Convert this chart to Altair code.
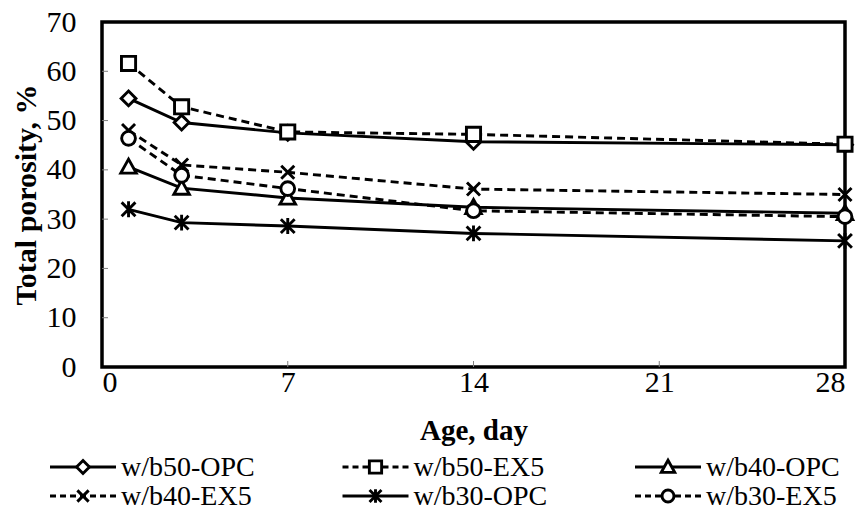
import altair as alt
import pandas as pd

# ---------------- data ----------------
days = [1, 3, 7, 14, 28]
series_names = ["w/b50-OPC", "w/b50-EX5", "w/b40-OPC", "w/b40-EX5", "w/b30-OPC", "w/b30-EX5"]
w50_opc = [54.5, 49.6, 47.5, 45.7, 45.1]
w50_ex5 = [61.6, 52.8, 47.7, 47.2, 45.2]
w40_opc = [40.6, 36.3, 34.3, 32.4, 31.2]
w40_ex5 = [48.0, 41.0, 39.5, 36.1, 35.0]
w30_opc = [32.0, 29.3, 28.6, 27.1, 25.6]
w30_ex5 = [46.4, 38.9, 36.2, 31.7, 30.5]
series_values = [w50_opc, w50_ex5, w40_opc, w40_ex5, w30_opc, w30_ex5]
line_styles = ["solid", "dash", "solid", "dash", "solid", "dash"]
x_tick_values = [0, 7, 14, 21, 28]
y_tick_values = [0, 10, 20, 30, 40, 50, 60, 70]

# ---------------- styles ----------------
FONT = "Liberation Serif"
FS = 30
FS_LEG = 28
FS_XT = 29
W, H = 743, 345
SW = 2.9
DIAMOND = "M0,-1L1,0L0,1L-1,0Z"
TRIANGLE = "M0,-1L1,0.8L-1,0.8Z"
XMARK = "M-1,-1L1,1M-1,1L1,-1"
STAR = "M-1,-1L1,1M-1,1L1,-1M0,-1.15L0,1.15"
shapes = [DIAMOND, "square", TRIANGLE, XMARK, STAR, "circle"]
sizes = [220, 200, 240, 170, 190, 190]
DASH = [8, 5]

xs = alt.Scale(domain=[0, 28], nice=False, zero=False)
ys = alt.Scale(domain=[0, 70], nice=False)

x_axis = alt.Axis(values=x_tick_values, title="Age, day", domain=False, ticks=False, grid=False,
                  labelFont=FONT, labelFontSize=FS, labelColor="black", labelPadding=0,
                  titleFont=FONT, titleFontSize=FS_XT, titleFontWeight="bold", titleColor="black",
                  titlePadding=19)
y_axis = alt.Axis(values=y_tick_values, title="Total porosity, %", domain=False, ticks=False, grid=False,
                  labelFont=FONT, labelFontSize=FS, labelColor="black", labelPadding=26,
                  titleFont=FONT, titleFontSize=FS, titleFontWeight="bold", titleColor="black",
                  titlePadding=5)

# inner tick marks
xt = pd.DataFrame({"t": x_tick_values[1:-1]})
yt = pd.DataFrame({"t": y_tick_values[1:-1]})
x_ticks = alt.Chart(xt).mark_rule(color="#808080", strokeWidth=1).encode(
    x=alt.X("t:Q", scale=xs, axis=x_axis), y=alt.value(H), y2=alt.value(H - 6))
y_ticks = alt.Chart(yt).mark_rule(color="#808080", strokeWidth=1).encode(
    y=alt.Y("t:Q", scale=ys, axis=y_axis), x=alt.value(0), x2=alt.value(6))

main_layers = [x_ticks, y_ticks]
for i, name in enumerate(series_names):
    df = pd.DataFrame({"day": days, "porosity": series_values[i], "series": name})
    base = alt.Chart(df)
    lkw = dict(color="black", strokeWidth=SW)
    if line_styles[i] == "dash":
        lkw["strokeDash"] = DASH
    line = base.mark_line(**lkw).encode(
        x=alt.X("day:Q", scale=xs), y=alt.Y("porosity:Q", scale=ys))
    pts = base.mark_point(shape=shapes[i], size=sizes[i], filled=True, fill="white",
                          stroke="black", strokeWidth=SW, opacity=1, fillOpacity=1).encode(
        x=alt.X("day:Q", scale=xs), y=alt.Y("porosity:Q", scale=ys))
    main_layers += [line, pts]
main = alt.layer(*main_layers)

# ---------------- legend (3 columns x 2 rows) ----------------
lxs = alt.Scale(domain=[0, 2], range=[50 - 102, 635 - 102])
lys = alt.Scale(domain=[0, 1], range=[467 - 22, 496 - 22])
leg_layers = []
for i, name in enumerate(series_names):
    ld = pd.DataFrame({"col": [i % 3], "row": [i // 3], "series": [name]})
    lb = alt.Chart(ld)
    enc = dict(x=alt.X("col:Q", scale=lxs, axis=None), y=alt.Y("row:Q", scale=lys, axis=None))
    rkw = dict(color="black", strokeWidth=SW, x2Offset=66)
    if line_styles[i] == "dash":
        rkw["strokeDash"] = [6, 4]
    rule = lb.mark_rule(**rkw).encode(x2="col:Q", **enc)
    sym = lb.mark_point(shape=shapes[i], size=sizes[i] * 0.75, filled=True, fill="white",
                        stroke="black", strokeWidth=SW, opacity=1, fillOpacity=1,
                        xOffset=33).encode(**enc)
    txt = lb.mark_text(font=FONT, fontSize=FS_LEG, align="left", baseline="middle", color="black",
                       xOffset=71, dy=1).encode(text="series:N", **enc)
    leg_layers += [rule, sym, txt]
legend = alt.layer(*leg_layers)

chart = alt.layer(main, legend).resolve_scale(x="independent", y="independent").properties(
    width=W, height=H,
    padding={"left": 102, "top": 22, "right": 16, "bottom": 144},
    autosize=alt.AutoSizeParams(type="none"),
    background="white",
).configure_view(stroke="black", strokeWidth=3.5)

chart.save("out.html", embed_options={"renderer": "svg", "actions": False})
